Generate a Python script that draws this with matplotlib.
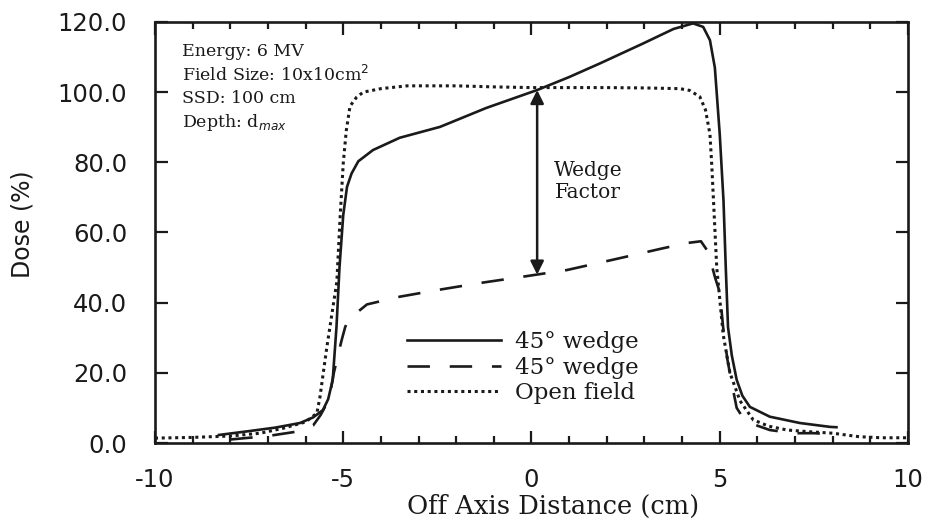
import numpy as np
import matplotlib
matplotlib.use("Agg")
import matplotlib.pyplot as plt
from matplotlib.ticker import MultipleLocator, FormatStrFormatter

plt.rcParams["axes.unicode_minus"] = False

# beam profiles: 45 deg wedge at dmax (solid), 45 deg wedge (dashed), open field (dotted)
x_wedge = [-8.3, -7.5, -6.8, -6.15, -5.8, -5.54, -5.4, -5.28, -5.18, -5.1, -5.0, -4.9,
           -4.78, -4.6, -4.21, -3.5, -2.43, -1.2, 0.15, 1.0, 1.82, 2.97, 3.77, 4.29,
           4.56, 4.74, 4.87, 5.0, 5.1, 5.16, 5.22, 5.32, 5.45, 5.6, 5.8, 6.33, 7.13,
           7.93, 8.1]
y_wedge = [2.3, 3.4, 4.4, 5.7, 7.3, 9.4, 12.5, 18, 33, 50, 65, 73,
           76.8, 80.3, 83.5, 87.0, 90.1, 95.5, 100.6, 104.3, 108.2, 113.9, 118.0, 119.6,
           118.6, 114.8, 107, 88, 69, 50, 33, 25, 18, 13.5, 10.3, 7.5, 5.7,
           4.6, 4.5]

x_wedge2 = [-8.0, -7.0, -6.2, -5.8, -5.6, -5.45, -5.35, -5.25, -5.15, -5.05, -4.95, -4.87,
            -4.6, -4.37, -3.5, -2.5, -1.37, -0.23, 0.94, 2.27, 3.49, 4.13, 4.5, 4.66,
            4.78, 4.88, 5.0, 5.09, 5.2, 5.32, 5.45, 5.6, 5.8, 6.33, 6.95, 7.5, 8.0]
y_wedge2 = [1.0, 2.0, 3.3, 5.0, 8, 11, 14, 20, 24.5, 29, 33, 35,
            37.5, 39.5, 41.7, 43.6, 45.6, 47.4, 49.3, 52.5, 55.5, 57.0, 57.5, 55,
            51, 47, 43, 33, 24, 17, 10, 7.5, 5.7, 3.7, 2.8, 2.8, 2.5]

x_open = [-10, -9, -8, -7.2, -6.6, -6.0, -5.7, -5.62, -5.44, -5.17, -5.08, -5.0, -4.92,
          -4.82, -4.65, -4.47, -4.0, -3.3, -2, -1, 0, 1, 2, 3, 3.94, 4.2, 4.47,
          4.62, 4.74, 4.79, 4.83, 4.92, 5.09, 5.27, 5.54, 5.89, 6.3, 6.79, 7.4,
          8.0, 8.7, 9.3, 10]
y_open = [1.4, 1.6, 2.0, 2.8, 4.2, 6.0, 8.5, 13, 27, 46, 65, 79.7, 89,
          96, 98.5, 100, 101, 101.8, 101.8, 101.5, 101.3, 101.3, 101.3, 101.2, 101, 100.5, 98.7,
          95, 88, 78.8, 70, 50, 31, 20, 12, 6.6, 4.8, 3.7, 3.2,
          2.8, 1.8, 1.5, 1.5]

# wedge factor arrow position and end values
wf_x = 0.15
wf_top = 100.6
wf_bottom = 48.0

info_lines = ["Energy: 6 MV", "Field Size: 10x10cm$^2$", "SSD: 100 cm", "Depth: d$_{max}$"]

ink = "#1a1a1a"
serif = ["DejaVu Serif"]
sans = ["DejaVu Sans"]

fig = plt.figure(figsize=(9.27, 5.22), dpi=100)
ax = fig.add_axes([0.1672, 0.1513, 0.8123, 0.8066])

ax.plot(x_wedge, y_wedge, color=ink, lw=1.9, label="45° wedge")
ax.plot(x_wedge2, y_wedge2, color=ink, lw=1.9, ls=(0, (8.5, 7.5)), label="45° wedge")
ax.plot(x_open, y_open, color=ink, lw=2.2, ls=(0, (1, 1.2)), label="Open field")

ax.annotate("", xy=(wf_x, wf_top), xytext=(wf_x, wf_bottom),
            arrowprops=dict(arrowstyle="<|-|>", color=ink, lw=1.8,
                            mutation_scale=20, shrinkA=0, shrinkB=0))
ax.text(1.5, 74.4, "Wedge\nFactor", ha="center", va="center", multialignment="center",
        fontsize=14.5, family=serif, color=ink, linespacing=1.2)

for i, line in enumerate(info_lines):
    ax.text(0.036, 0.93 - i * 0.056, line, transform=ax.transAxes, fontsize=12.5,
            family=serif, color=ink, va="center", ha="left")

ax.set_xlim(-10, 10)
ax.set_ylim(0, 120)
ax.xaxis.set_major_locator(MultipleLocator(5))
ax.xaxis.set_minor_locator(MultipleLocator(1))
ax.yaxis.set_major_locator(MultipleLocator(20))
ax.yaxis.set_major_formatter(FormatStrFormatter("%.1f"))

ax.tick_params(which="both", direction="in", top=True, right=True, width=1.6, color=ink)
ax.tick_params(which="major", length=9)
ax.tick_params(which="minor", length=5)
ax.tick_params(axis="y", pad=20, labelsize=17.5, labelcolor=ink)
ax.tick_params(axis="x", pad=18, labelsize=17.5, labelcolor=ink)
for lbl in ax.get_xticklabels() + ax.get_yticklabels():
    lbl.set_family(sans)

for sp in ax.spines.values():
    sp.set_linewidth(1.9)
    sp.set_color(ink)

ax.set_xlabel("Off Axis Distance (cm)", fontsize=18.5, family=serif, color=ink)
ax.xaxis.set_label_coords(0.529, -0.122)
ax.set_ylabel("Dose (%)", fontsize=17, family=sans, color=ink)
ax.yaxis.set_label_coords(-0.16, 0.52)

leg = ax.legend(loc="upper left", bbox_to_anchor=(0.335, 0.265), frameon=False,
                prop={"family": serif, "size": 16.5}, handlelength=4.1,
                handletextpad=0.6, labelspacing=0.15, borderpad=0, borderaxespad=0)
for t in leg.get_texts():
    t.set_color(ink)

fig.savefig("out.png", dpi=100, facecolor="white")
